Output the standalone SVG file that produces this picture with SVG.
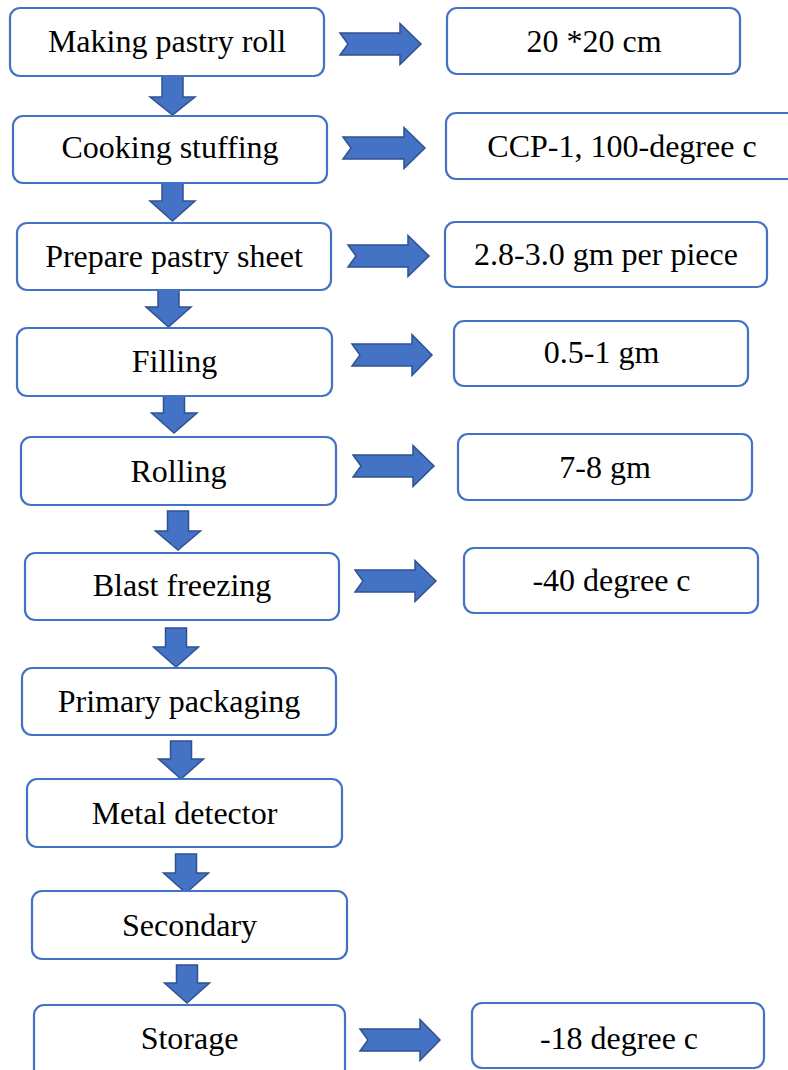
<svg xmlns="http://www.w3.org/2000/svg" width="788" height="1070" viewBox="0 0 788 1070">
<style>
.box{fill:#fff;stroke:#4472C4;stroke-width:2.2}
.t{font-family:"Liberation Serif","Times New Roman",serif;font-size:32px;fill:#000;text-anchor:middle}
.ar{fill:#4472C4;stroke:#2F528F;stroke-width:1.5;stroke-linejoin:miter}
</style>
<rect width="788" height="1070" fill="#fff"/>
<g id="connectors">
<polygon class="ar" points="162,76 183,76 183,97 195,97 172.5,115 150,97 162,97"/>
<polygon class="ar" points="162,183 183,183 183,201 195,201 172.5,221 150,201 162,201"/>
<polygon class="ar" points="158,290 179,290 179,307 191,307 168.5,327 146,307 158,307"/>
<polygon class="ar" points="163.5,396 184.5,396 184.5,413 197,413 174,433 151.5,413 163.5,413"/>
<polygon class="ar" points="167.5,511 188.5,511 188.5,531 200.5,531 178,550 155.5,531 167.5,531"/>
<polygon class="ar" points="165.5,628 186.5,628 186.5,647 198.5,647 176,667 153.5,647 165.5,647"/>
<polygon class="ar" points="170.5,741 191.5,741 191.5,759 203.5,759 181,779 158.5,759 170.5,759"/>
<polygon class="ar" points="175.5,854 196.5,854 196.5,873 208.5,873 186,893 163.5,873 175.5,873"/>
<polygon class="ar" points="176.5,965 197.5,965 197.5,983 209.5,983 187,1003 164.5,983 176.5,983"/>
<polygon class="ar" points="340,33 400,33 400,23.5 421,44 400,64.5 400,55 340,55 348,44"/>
<polygon class="ar" points="343,137 404,137 404,127.5 425,148 404,168.5 404,159 343,159 351,148"/>
<polygon class="ar" points="348,245 408,245 408,235.5 429,256 408,276.5 408,267 348,267 356,256"/>
<polygon class="ar" points="352,344 412,344 412,334.5 432,355 412,375.5 412,366 352,366 360,355"/>
<polygon class="ar" points="353,455 413,455 413,445.5 434,466 413,486.5 413,477 353,477 361,466"/>
<polygon class="ar" points="355,570 415,570 415,560.5 436,581 415,601.5 415,592 355,592 363,581"/>
<polygon class="ar" points="360,1029 420,1029 420,1019.5 440,1040 420,1060.5 420,1051 360,1051 368,1040"/>
</g>
<g id="n1"><rect class="box" x="10" y="8" width="314" height="68" rx="10"/><text class="t" x="167" y="52">Making pastry roll</text></g>
<g id="n2"><rect class="box" x="13" y="116" width="314" height="67" rx="10"/><text class="t" x="170" y="158">Cooking stuffing</text></g>
<g id="n3"><rect class="box" x="17" y="223" width="314" height="67" rx="10"/><text class="t" x="174" y="267">Prepare pastry sheet</text></g>
<g id="n4"><rect class="box" x="17" y="328" width="315" height="68" rx="10"/><text class="t" x="174.5" y="372">Filling</text></g>
<g id="n5"><rect class="box" x="21" y="437" width="315" height="68" rx="10"/><text class="t" x="178.5" y="482">Rolling</text></g>
<g id="n6"><rect class="box" x="25" y="553" width="314" height="67" rx="10"/><text class="t" x="182" y="596">Blast freezing</text></g>
<g id="n7"><rect class="box" x="22" y="668" width="314" height="67" rx="10"/><text class="t" x="179" y="712">Primary packaging</text></g>
<g id="n8"><rect class="box" x="27" y="779" width="315" height="68" rx="10"/><text class="t" x="184.5" y="824">Metal detector</text></g>
<g id="n9"><rect class="box" x="32" y="891" width="315" height="68" rx="10"/><text class="t" x="189.5" y="936">Secondary</text></g>
<g id="n10"><rect class="box" x="34" y="1005" width="311" height="75" rx="10"/><text class="t" x="189.5" y="1049">Storage</text></g>
<g id="r1"><rect class="box" x="447" y="8" width="293" height="66" rx="10"/><text class="t" x="594" y="52">20 *20 cm</text></g>
<g id="r2"><rect class="box" x="446" y="113" width="355" height="66" rx="10"/><text class="t" x="622" y="157">CCP-1, 100-degree c</text></g>
<g id="r3"><rect class="box" x="445" y="222" width="322" height="65" rx="10"/><text class="t" x="606" y="265">2.8-3.0 gm per piece</text></g>
<g id="r4"><rect class="box" x="454" y="321" width="294" height="65" rx="10"/><text class="t" x="601.5" y="363">0.5-1 gm</text></g>
<g id="r5"><rect class="box" x="458" y="434" width="294" height="66" rx="10"/><text class="t" x="605" y="478">7-8 gm</text></g>
<g id="r6"><rect class="box" x="464" y="548" width="294" height="65" rx="10"/><text class="t" x="611.5" y="591">-40 degree c</text></g>
<g id="r7"><rect class="box" x="472" y="1003" width="292" height="65" rx="10"/><text class="t" x="619" y="1049">-18 degree c</text></g>
</svg>
